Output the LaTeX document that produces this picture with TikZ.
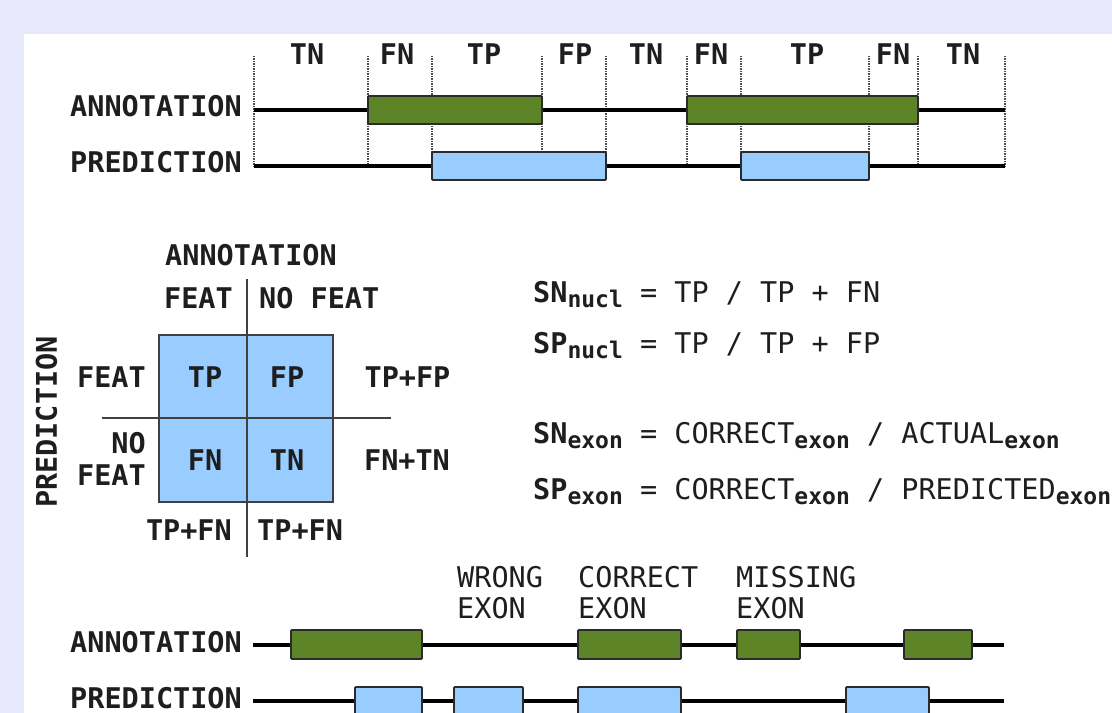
\documentclass[tikz,border=0pt]{standalone}
\usepackage{fontspec}
\newfontfamily\dmono{DejaVu Sans Mono}
\definecolor{lav}{HTML}{E8E8FC}
\definecolor{exgreen}{HTML}{5E8428}
\definecolor{exblue}{HTML}{99CCFF}
\definecolor{edgec}{HTML}{2B2B2B}
\definecolor{txt}{HTML}{1E1E1E}
\newcommand\subx[1]{\raisebox{-5bp}{\fontsize{23bp}{23bp}\selectfont\bfseries #1}}
\tikzset{
  lbl/.style={inner sep=0pt, text=txt, font=\dmono\bfseries\fontsize{28.5bp}{31bp}\selectfont},
  rlbl/.style={inner sep=0pt, text=txt, font=\dmono\fontsize{28.5bp}{31bp}\selectfont},
  seqline/.style={line width=4bp, black},
  annbox/.style={draw=edgec, line width=1.8bp, fill=exgreen, rounded corners=1bp},
  predbox/.style={draw=edgec, line width=1.8bp, fill=exblue, rounded corners=1bp},
  sepline/.style={densely dotted, line width=1.5bp, black!70},
  gridline/.style={line width=2bp, black!75},
}
\begin{document}
\begin{tikzpicture}[x=1bp,y=-1bp]
\useasboundingbox (0,0) rectangle (1112,713);
\clip (0,0) rectangle (1112,713);
\fill[lav] (0,0) rectangle (1112,713);
\fill[white] (24,34) rectangle (1112,713);

% ---------- top: nucleotide level ----------
\foreach \x in {254,368,432,542,606,687,741,869,918,1005}
  \draw[sepline] (\x,56) -- (\x,166);
\coordinate (a1s) at (254,110); \coordinate (a1e) at (1005,110);
\coordinate (p1s) at (254,166); \coordinate (p1e) at (1005,166);
\draw[seqline] (a1s) -- (a1e);
\draw[seqline] (p1s) -- (p1e);
\draw[annbox] (368,96) rectangle (542,124);
\draw[annbox] (687,96) rectangle (918,124);
\draw[predbox] (432,152) rectangle (606,180);
\draw[predbox] (741,152) rectangle (869,180);

\node[lbl, anchor=base] (h1) at (307,65) {TN};
\node[lbl, anchor=base] (h2) at (397,65) {FN};
\node[lbl, anchor=base] (h3) at (484,65) {TP};
\node[lbl, anchor=base] (h4) at (575,65) {FP};
\node[lbl, anchor=base] (h5) at (646,65) {TN};
\node[lbl, anchor=base] (h6) at (711,65) {FN};
\node[lbl, anchor=base] (h7) at (807,65) {TP};
\node[lbl, anchor=base] (h8) at (893,65) {FN};
\node[lbl, anchor=base] (h9) at (963,65) {TN};

\node[lbl, anchor=base east] (ann1) at (242,117) {ANNOTATION};
\node[lbl, anchor=base east] (pred1) at (242,173) {PREDICTION};

% ---------- confusion matrix ----------
\draw[gridline, fill=exblue] (159,335) rectangle (333,502);
\coordinate (vt) at (247,279); \coordinate (vb) at (247,557);
\coordinate (hl) at (102,418); \coordinate (hr) at (391,418);
\draw[gridline] (vt) -- (vb);
\draw[gridline] (hl) -- (hr);

\node[lbl, anchor=base] (mann) at (251,265) {ANNOTATION};
\node[lbl, anchor=base east] (cfeat) at (233,308) {FEAT};
\node[lbl, anchor=base west] (cnofeat) at (259,308) {NO FEAT};
\node[lbl] (tp) at (205,377) {TP};
\node[lbl] (fp) at (287,377) {FP};
\node[lbl] (fn) at (205,460) {FN};
\node[lbl] (tn) at (287,460) {TN};
\node[lbl, anchor=east] (rfeat) at (146,377) {FEAT};
\node[lbl, anchor=east] (rno) at (146,443) {NO};
\node[lbl, anchor=east] (rnofeat) at (146,475) {FEAT};
\node[lbl, rotate=90] (mpred) at (46.5,422) {PREDICTION};
\node[lbl] (tpfp) at (407.5,377) {TP+FP};
\node[lbl] (fntn) at (407,460) {FN+TN};
\node[lbl, anchor=east] (tpfn1) at (232,530) {TP+FN};
\node[lbl, anchor=west] (tpfn2) at (257,530) {TP+FN};

% ---------- formulas ----------
\node[rlbl, anchor=base west] (f1) at (533,302) {\textbf{SN}\subx{nucl} = TP / TP + FN};
\node[rlbl, anchor=base west] (f2) at (533,353) {\textbf{SP}\subx{nucl} = TP / TP + FP};
\node[rlbl, anchor=base west] (f3) at (533,443) {\textbf{SN}\subx{exon} = CORRECT\subx{exon} / ACTUAL\subx{exon}};
\node[rlbl, anchor=base west] (f4) at (533,499) {\textbf{SP}\subx{exon} = CORRECT\subx{exon} / PREDICTED\subx{exon}};

% ---------- bottom: exon level ----------
\coordinate (a2s) at (253,645); \coordinate (a2e) at (1004,645);
\coordinate (p2s) at (253,701); \coordinate (p2e) at (1004,701);
\draw[seqline] (a2s) -- (a2e);
\draw[seqline] (p2s) -- (p2e);
\draw[annbox] (291,630) rectangle (422,659);
\draw[annbox] (578,630) rectangle (681,659);
\draw[annbox] (737,630) rectangle (800,659);
\draw[annbox] (904,630) rectangle (972,659);
\draw[predbox] (355,687) rectangle (422,716);
\draw[predbox] (454,687) rectangle (523,716);
\draw[predbox] (578,687) rectangle (681,716);
\draw[predbox] (846,687) rectangle (929,716);

\node[rlbl, anchor=base west] (w1) at (457,587) {WRONG};
\node[rlbl, anchor=base west] (w2) at (457,618) {EXON};
\node[rlbl, anchor=base west] (c1) at (578,587) {CORRECT};
\node[rlbl, anchor=base west] (c2) at (578,618) {EXON};
\node[rlbl, anchor=base west] (m1) at (736,587) {MISSING};
\node[rlbl, anchor=base west] (m2) at (736,618) {EXON};

\node[lbl, anchor=base east] (ann2) at (242,652) {ANNOTATION};
\node[lbl, anchor=base east] (pred2) at (242,708) {PREDICTION};
\end{tikzpicture}
\end{document}
